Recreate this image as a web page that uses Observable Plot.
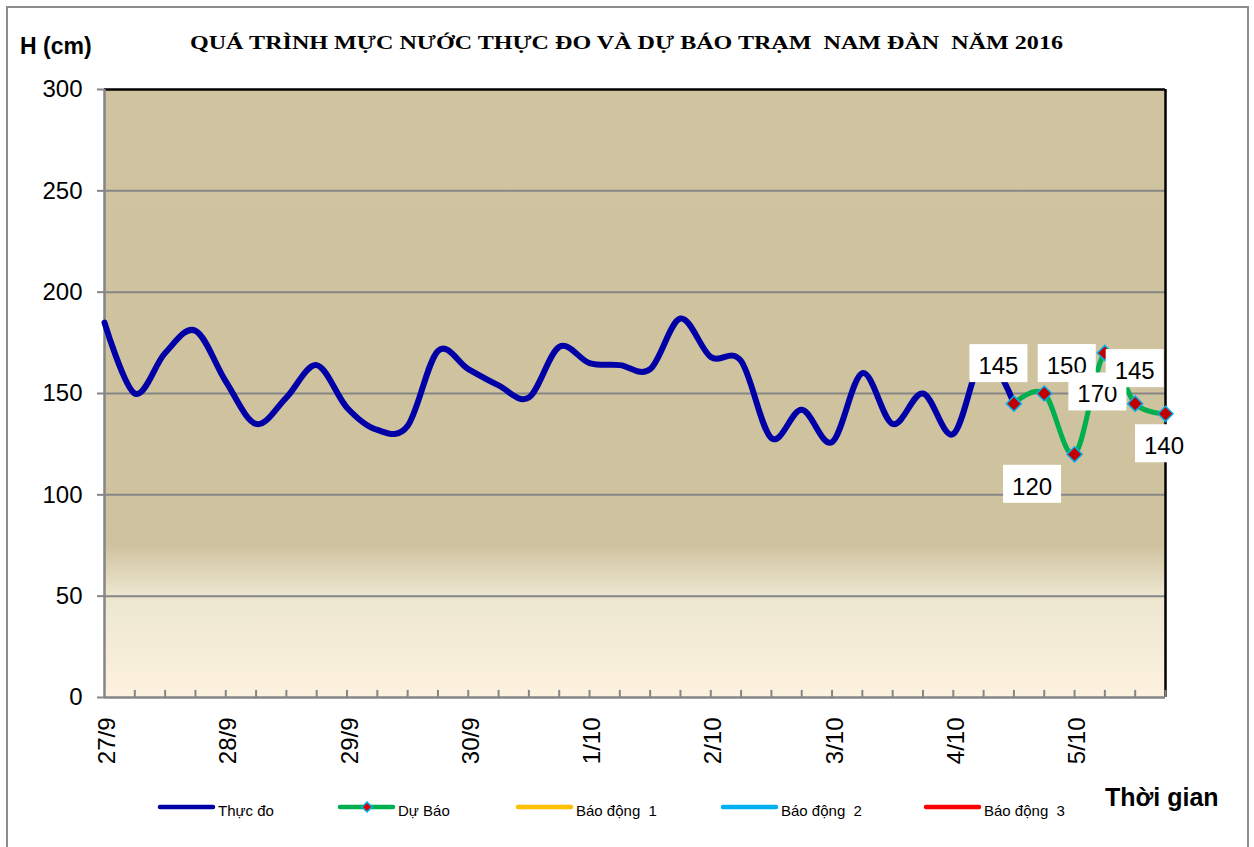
<!DOCTYPE html>
<html>
<head>
<meta charset="utf-8">
<script src="https://cdn.jsdelivr.net/npm/d3@7"></script>
<script src="https://cdn.jsdelivr.net/npm/@observablehq/plot@0.6"></script>
<style>
  body { margin: 0; background: #fff; }
  #chart { width: 1254px; height: 847px; }
</style>
</head>
<body>
<div id="chart"></div>
<script>
// ---------- data ----------
const titleText = "QUÁ TRÌNH MỰC NƯỚC THỰC ĐO VÀ DỰ BÁO TRẠM  NAM ĐÀN  NĂM 2016";
const yTitle = "H (cm)";
const xTitle = "Thời gian";
const dayLabels = ["27/9", "28/9", "29/9", "30/9", "1/10", "2/10", "3/10", "4/10", "5/10"];
const stepsPerDay = 4;          // 4 observations per day
const totalSteps = 36;          // 36 time steps on the axis
const yTicks = [0, 50, 100, 150, 200, 250, 300];
const observed = [185, 150, 170, 181, 156, 135, 148, 164, 143, 132,
                  134, 171, 162, 154, 148, 173, 165, 164, 162, 187,
                  168, 166, 128, 142, 126, 160, 135, 150, 130, 168, 145];
const forecastStart = 30;
const forecast = [145, 150, 120, 170, 145, 140];
const legendNames = ["Thực đo", "Dự Báo", "Báo động  1", "Báo động  2", "Báo động  3"];

// ---------- styles ----------
const legendColors = ["#0000A6", "#00B050", "#FFC000", "#00B0F0", "#FF0000"];
const labelOffsets = [[-15, -40], [23, -30], [-42, 30], [-7, 39], [0, -35], [-1, 30]];
const sans = "'Liberation Sans', Arial, sans-serif";

const obsData = observed.map((v, i) => ({i, v}));
const fcData = forecast.map((v, k) => ({i: forecastStart + k, v}));
const stepIdx = d3.range(totalSteps);
const dayIdx = dayLabels.map((_, k) => k * stepsPerDay);

function dataLabels(data, offsets) {
  return (index, scales) => {
    const g = d3.create("svg:g");
    data.forEach((d, k) => {
      const cx = scales.x(d.i) + offsets[k][0];
      const cy = scales.y(d.v) + offsets[k][1];
      g.append("rect").attr("x", cx - 29).attr("y", cy - 19)
        .attr("width", 58).attr("height", 38).attr("fill", "white");
      g.append("text").attr("x", cx).attr("y", cy).attr("dy", "0.45em")
        .attr("text-anchor", "middle").attr("font-size", 24)
        .attr("font-family", sans).attr("fill", "#000").text(d.v);
    });
    return g.node();
  };
}

const svg = Plot.plot({
  width: 1254,
  height: 847,
  marginTop: 89,
  marginRight: 89,
  marginBottom: 150,
  marginLeft: 104,
  style: {fontFamily: sans, background: "transparent", overflow: "visible"},
  x: {type: "linear", domain: [0, totalSteps - 1]},
  y: {domain: [0, 300]},
  marks: [
    Plot.frame({fill: "url(#bgGrad)", stroke: "none"}),
    Plot.gridY(yTicks.slice(1, -1), {stroke: "#868686", strokeOpacity: 1, strokeWidth: 2}),
    Plot.ruleY([300], {stroke: "#000", strokeWidth: 2.5}),
    Plot.ruleX([totalSteps - 1], {stroke: "#000", strokeWidth: 2.5}),
    Plot.ruleX([0], {stroke: "#868686", strokeWidth: 2.5}),
    Plot.ruleY([0], {stroke: "#868686", strokeWidth: 2.5}),
    Plot.ruleX(stepIdx.slice(1), {x: d => d, y1: 0, y2: 3.5, stroke: "#868686", strokeWidth: 2}),
    Plot.axisY({ticks: yTicks, tickSize: 7, tickPadding: 15, fontSize: 24, label: null,
                stroke: "#868686", strokeWidth: 2, color: "#000"}),
    Plot.axisX({ticks: dayIdx, tickFormat: i => dayLabels[i / stepsPerDay], tickRotate: -90,
                tickSize: 0, tickPadding: 20, fontSize: 24, label: null, dx: 3}),
    Plot.line(obsData, {x: "i", y: "v", stroke: legendColors[0], strokeWidth: 6, curve: "cardinal"}),
    Plot.line(fcData, {x: "i", y: "v", stroke: legendColors[1], strokeWidth: 5, curve: "cardinal"}),
    Plot.dot(fcData, {x: "i", y: "v", symbol: "diamond2", r: 6.8, fill: "#C00000",
                      stroke: "#00B0F0", strokeWidth: 1.5}),
    dataLabels(fcData, labelOffsets)
  ]
});

const s = d3.select(svg);
const defs = s.insert("defs", ":first-child");
const grad = defs.append("linearGradient").attr("id", "bgGrad")
  .attr("x1", 0).attr("y1", 0).attr("x2", 0).attr("y2", 1);
[[0, "#D0C3A0"], [0.75, "#CFC29F"], [0.83, "#ECE6CF"], [1, "#FDF2DF"]].forEach(([o, c]) =>
  grad.append("stop").attr("offset", o).attr("stop-color", c));

// outer border
s.append("rect").attr("x", 7).attr("y", 7).attr("width", 1241).attr("height", 845)
  .attr("fill", "none").attr("stroke", "#8c8c8c").attr("stroke-width", 2);

const over = s.append("g").attr("text-anchor", "start").attr("fill", "#000");

// title
over.append("text").attr("x", 190).attr("y", 49).attr("textLength", 873)
  .attr("lengthAdjust", "spacingAndGlyphs").attr("text-anchor", "start")
  .attr("font-family", "'Liberation Serif', 'Times New Roman', serif")
  .attr("font-weight", "bold").attr("font-size", 19)
  .style("white-space", "pre").text(titleText);

// axis titles
over.append("text").attr("x", 20).attr("y", 54).attr("text-anchor", "start").attr("font-family", sans)
  .attr("font-weight", "bold").attr("font-size", 23).text(yTitle);
over.append("text").attr("x", 1105).attr("y", 806).attr("text-anchor", "start").attr("font-family", sans)
  .attr("font-weight", "bold").attr("font-size", 25).text(xTitle);

// legend
const legX = [160, 340, 518, 723, 926];
const lg = over.append("g");
legendNames.forEach((name, k) => {
  const x0 = legX[k];
  lg.append("line").attr("x1", x0).attr("x2", x0 + 53).attr("y1", 807).attr("y2", 807)
    .attr("stroke", legendColors[k]).attr("stroke-width", 4.5).attr("stroke-linecap", "round");
  if (k === 1) {
    lg.append("path").attr("d", "M0,-5L5,0L0,5L-5,0Z")
      .attr("transform", `translate(${x0 + 27},807)`)
      .attr("fill", "#E00000").attr("stroke", "#00B0F0").attr("stroke-width", 1.5);
  }
  lg.append("text").attr("x", x0 + 58).attr("y", 816).attr("text-anchor", "start")
    .attr("font-family", sans).attr("font-size", 15)
    .style("white-space", "pre").text(name);
});

document.getElementById("chart").appendChild(svg);
</script>
</body>
</html>
